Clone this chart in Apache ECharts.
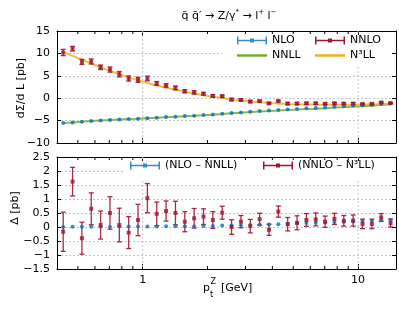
<!DOCTYPE html>
<html>
<head>
<meta charset="utf-8">
<script src="https://cdn.jsdelivr.net/npm/echarts@6/dist/echarts.min.js"></script>
<style>html,body{margin:0;padding:0;background:#fff}#c{width:399px;height:317px}</style>
</head>
<body>
<div id="c"></div>
<script>
// ---- data ----
const PT = [0.4274, 0.4724, 0.5220, 0.5769, 0.6376, 0.7047, 0.7788, 0.8607, 0.9512, 1.0513, 1.1618, 1.2840, 1.4191, 1.5683, 1.7333, 1.9155, 2.1170, 2.3396, 2.5857, 2.8577, 3.1582, 3.4903, 3.8574, 4.2631, 4.7115, 5.2070, 5.7546, 6.3598, 7.0287, 7.7679, 8.5849, 9.4877, 10.4856, 11.5883, 12.8071, 14.1540];
const NLO = [-5.55,-5.4,-5.25,-5.1,-4.97,-4.88,-4.75,-4.65,-4.57,-4.45,-4.35,-4.22,-4.13,-4.0,-3.9,-3.77,-3.63,-3.48,-3.33,-3.18,-3.03,-2.88,-2.74,-2.63,-2.5,-2.4,-2.27,-2.18,-2.05,-1.92,-1.82,-1.68,-1.58,-1.45,-1.3,-1.15];
const NNLO = [10.2,11.05,8.1,8.2,6.9,6.4,5.35,4.4,4.1,4.4,3.3,2.85,2.3,1.55,1.3,1.0,0.5,0.45,-0.3,-0.4,-0.75,-0.65,-1.15,-0.65,-1.2,-1.2,-1.15,-1.15,-1.25,-1.15,-1.2,-1.2,-1.3,-1.25,-0.95,-1.1];
const NNLL = [-5.55,-5.41,-5.26,-5.11,-4.98,-4.89,-4.77,-4.67,-4.59,-4.47,-4.37,-4.25,-4.16,-4.03,-3.93,-3.81,-3.67,-3.53,-3.38,-3.24,-3.1,-2.96,-2.83,-2.73,-2.62,-2.53,-2.41,-2.33,-2.22,-2.1,-2.01,-1.88,-1.79,-1.67,-1.54,-1.4];
const N3LL = [10.3,9.45,8.6,7.75,6.9,6.1,5.35,4.65,4.0,3.4,2.85,2.35,1.88,1.45,1.05,0.68,0.33,0.02,-0.28,-0.53,-0.75,-0.93,-1.07,-1.18,-1.27,-1.34,-1.39,-1.42,-1.44,-1.45,-1.45,-1.44,-1.42,-1.38,-1.33,-1.25];
const ERR = [0.7,0.51,0.57,0.57,0.5,0.58,0.6,0.57,0.56,0.52,0.42,0.36,0.42,0.36,0.35,0.28,0.3,0.23,0.26,0.22,0.24,0.21,0.2,0.2,0.24,0.25,0.23,0.23,0.2,0.2,0.19,0.2,0.17,0.17,0.14,0.14];
const D_NLO = [0,0.01,0.01,0.01,0.01,0.01,0.02,0.02,0.02,0.02,0.02,0.03,0.03,0.03,0.03,0.04,0.04,0.05,0.05,0.06,0.07,0.08,0.09,0.1,0.12,0.13,0.14,0.15,0.17,0.18,0.19,0.2,0.21,0.22,0.24,0.25];
const D_NNLO = [-0.17,1.62,-0.4,0.65,0.07,0.5,0.07,-0.2,0.25,1.03,0.47,0.57,0.5,0.19,0.31,0.37,0.25,0.51,0.0,0.19,0.03,0.28,-0.1,0.55,0.1,0.15,0.25,0.27,0.19,0.29,0.22,0.23,0.11,0.11,0.34,0.14];
const X_MINOR = [0.5,0.6,0.7,0.8,0.9,2,3,4,5,6,7,8,9];
const X_LABELS = [1, 10];

const BLUE = '#0072BD', RED = '#A2142F', GREEN = '#77AC30', ORANGE = '#EDB120';
const FONT = 'DejaVu Sans';
const EB_ICON = 'path://M0 0h1.5v8h-1.5zM28.5 0h1.5v8h-1.5zM0 3.3h30v1.4h-30zM13 2h4v4h-4z';

const pairs = (ys) => PT.map((x, i) => [x, ys[i]]);
const errData = (ys) => PT.map((x, i) => [x, ys[i] - ERR[i], ys[i] + ERR[i]]);
const minusFmt = (v) => (v < 0 ? '\u2212' : '') + Math.abs(v);
const xLabelFmt = (v) => (X_LABELS.some(t => Math.abs(t - v) < 1e-9) ? String(Math.round(v)) : '');

function errRender(params, api) {
  const x = api.value(0);
  const a = api.coord([x, api.value(1)]);
  const b = api.coord([x, api.value(2)]);
  const w = 2.5;
  const st = { stroke: RED, lineWidth: 1.3, opacity: 0.9 };
  return { type: 'group', children: [
    { type: 'line', shape: { x1: a[0], y1: a[1], x2: b[0], y2: b[1] }, style: st },
    { type: 'line', shape: { x1: a[0] - w, y1: a[1], x2: a[0] + w, y2: a[1] }, style: st },
    { type: 'line', shape: { x1: b[0] - w, y1: b[1], x2: b[0] + w, y2: b[1] }, style: st }
  ]};
}
// minor log ticks on bottom and top frame edges
function tickRender(params, api) {
  const cs = params.coordSys;
  const px = api.coord([api.value(0), api.value(1)])[0];
  const st = { stroke: '#000', lineWidth: 1 };
  return { type: 'group', children: [
    { type: 'line', shape: { x1: px, y1: cs.y + cs.height, x2: px, y2: cs.y + cs.height - 3 }, style: st },
    { type: 'line', shape: { x1: px, y1: cs.y, x2: px, y2: cs.y + 3 }, style: st }
  ]};
}
// vertical dashed grid lines at the labelled decades
function vGridRender(params, api) {
  const cs = params.coordSys;
  const px = api.coord([api.value(0), api.value(1)])[0];
  return { type: 'line', shape: { x1: px, y1: cs.y, x2: px, y2: cs.y + cs.height },
           style: { stroke: '#c4c4c4', lineWidth: 1, lineDash: [2, 2] } };
}

const frameLine = { show: true, onZero: false, lineStyle: { color: '#000', width: 1 } };
const dashed = () => ({ show: true, showMinLine: false, showMaxLine: false, lineStyle: { color: '#c4c4c4', type: [2, 2], width: 1 } });

function xAx(grid, pos, labels) {
  return {
    type: 'log', gridIndex: grid, position: pos, min: 0.4, max: 15, logBase: 10,
    axisLine: frameLine,
    axisTick: { show: true, inside: true, length: 5, lineStyle: { color: '#000' } },
    axisLabel: { show: labels, formatter: xLabelFmt, showMinLabel: false, showMaxLabel: false,
                 margin: 6, color: '#000', fontFamily: FONT, fontSize: 11 },
    splitLine: { show: false },
    minorTick: { show: false },
    minorSplitLine: { show: false }
  };
}
function yAx(grid, pos, min, max, interval, labels, split) {
  return {
    type: 'value', gridIndex: grid, position: pos, min: min, max: max, interval: interval,
    axisLine: frameLine,
    axisTick: { show: true, inside: true, length: 4, lineStyle: { color: '#000' } },
    axisLabel: { show: labels, formatter: minusFmt, margin: 7, color: '#000', fontFamily: FONT, fontSize: 11 },
    splitLine: split ? dashed() : { show: false }
  };
}

function leg(name, icon, left, top, iw, ih) {
  return {
    data: [{ name: name, icon: icon }], left: left, top: top, orient: 'horizontal',
    itemWidth: iw, itemHeight: ih, itemGap: 0, padding: 0, selectedMode: false,
    textStyle: { fontFamily: FONT, fontSize: 11, color: '#000' }
  };
}

const chart = echarts.init(document.getElementById('c'), null, { renderer: 'canvas' });
chart.setOption({
  animation: false,
  backgroundColor: '#fff',
  grid: [
    { left: 57, top: 31, width: 339, height: 112 },
    { left: 57, top: 157, width: 339, height: 112 }
  ],
  xAxis: [
    xAx(0, 'bottom', false), xAx(0, 'top', false),
    xAx(1, 'bottom', true), xAx(1, 'top', false)
  ],
  yAxis: [
    yAx(0, 'left', -10, 15, 5, true, true), yAx(0, 'right', -10, 15, 5, false, false),
    yAx(1, 'left', -1.5, 2.5, 0.5, true, true), yAx(1, 'right', -1.5, 2.5, 0.5, false, false)
  ],
  legend: [
    leg('NLO', EB_ICON, 237, 35, 30, 8),
    leg('NNLO', EB_ICON, 315, 35, 30, 8),
    leg('NNLL', 'rect', 237, 50, 30, 2.5),
    leg('N\u00B3LL', 'rect', 315, 50, 30, 2.5),
    leg('(NLO \u2013 NNLL)', EB_ICON, 130, 160, 30, 8),
    leg('(NNLO \u2013 N\u00B3LL)', EB_ICON, 263, 160, 30, 8)
  ],
  graphic: { elements: [
    { type: 'rect', z: 3, shape: { x: 222, y: 35, width: 169, height: 31 }, style: { fill: '#fff' } },
    { type: 'rect', z: 3, shape: { x: 123, y: 161, width: 268, height: 18 }, style: { fill: '#fff' } },
    { type: 'text', z: 5, x: 229, y: 16, style: {
        text: '{a|q\u0304 q\u0304\u2032 \u2192 Z/\u03B3}{s|*}{a| \u2192 l}{s|+}{a| l}{s|\u2212}',
        align: 'center', verticalAlign: 'middle',
        rich: { a: { fontFamily: FONT, fontSize: 11, fill: '#000', lineHeight: 14 },
                s: { fontFamily: FONT, fontSize: 7, fill: '#000', lineHeight: 14, verticalAlign: 'top' } } } },
    { type: 'text', z: 5, x: 21, y: 88, rotation: Math.PI / 2, style: {
        text: 'd\u03A3/d L [pb]', align: 'center', verticalAlign: 'middle', fontFamily: FONT, fontSize: 11, fill: '#000' } },
    { type: 'text', z: 5, x: 15, y: 208, rotation: Math.PI / 2, style: {
        text: '\u0394 [pb]', align: 'center', verticalAlign: 'middle', fontFamily: FONT, fontSize: 11, fill: '#000' } },
    { type: 'text', z: 5, x: 203, y: 288, style: { text: 'p', align: 'left', verticalAlign: 'middle', fontFamily: FONT, fontSize: 11, fill: '#000' } },
    { type: 'text', z: 5, x: 210, y: 295, style: { text: 't', align: 'left', verticalAlign: 'middle', fontFamily: FONT, fontSize: 8, fill: '#000' } },
    { type: 'text', z: 5, x: 210.5, y: 282, style: { text: 'Z', align: 'left', verticalAlign: 'middle', fontFamily: FONT, fontSize: 8, fill: '#000' } },
    { type: 'text', z: 5, x: 221, y: 288, style: { text: '[GeV]', align: 'left', verticalAlign: 'middle', fontFamily: FONT, fontSize: 11, fill: '#000' } }
  ]},
  series: [
    { name: 'gridTop', type: 'custom', xAxisIndex: 0, yAxisIndex: 0, data: X_LABELS.map(v => [v, 0]),
      renderItem: vGridRender, encode: { x: 0, y: 1 }, silent: true, clip: false, z: 1 },
    { name: 'gridBottom', type: 'custom', xAxisIndex: 2, yAxisIndex: 2, data: X_LABELS.map(v => [v, 0]),
      renderItem: vGridRender, encode: { x: 0, y: 1 }, silent: true, clip: false, z: 1 },
    { name: 'ticksTop', type: 'custom', xAxisIndex: 0, yAxisIndex: 0, data: X_MINOR.map(v => [v, 0]),
      renderItem: tickRender, encode: { x: 0, y: 1 }, silent: true, clip: false, z: 6 },
    { name: 'ticksBottom', type: 'custom', xAxisIndex: 2, yAxisIndex: 2, data: X_MINOR.map(v => [v, 0]),
      renderItem: tickRender, encode: { x: 0, y: 1 }, silent: true, clip: false, z: 6 },
    { name: 'NNLL', type: 'line', xAxisIndex: 0, yAxisIndex: 0, data: pairs(NNLL), showSymbol: false, color: GREEN,
      lineStyle: { color: GREEN, width: 2, opacity: 0.85 }, z: 2, silent: true },
    { name: 'N\u00B3LL', type: 'line', xAxisIndex: 0, yAxisIndex: 0, data: pairs(N3LL), showSymbol: false, color: ORANGE,
      lineStyle: { color: ORANGE, width: 2, opacity: 0.85 }, z: 2, silent: true },
    { name: 'NLO', type: 'scatter', xAxisIndex: 0, yAxisIndex: 0, data: pairs(NLO), symbol: 'circle', symbolSize: 4, color: BLUE, z: 4 },
    { name: 'NNLO', type: 'custom', xAxisIndex: 0, yAxisIndex: 0, data: errData(NNLO), renderItem: errRender, color: RED,
      encode: { x: 0, y: [1, 2] }, z: 3 },
    { name: 'NNLO', type: 'scatter', xAxisIndex: 0, yAxisIndex: 0, data: pairs(NNLO), symbol: 'rect', symbolSize: 4, color: RED, z: 4 },
    { name: '(NLO \u2013 NNLL)', type: 'scatter', xAxisIndex: 2, yAxisIndex: 2, data: pairs(D_NLO), symbol: 'circle', symbolSize: 4, color: BLUE, z: 4 },
    { name: '(NNLO \u2013 N\u00B3LL)', type: 'custom', xAxisIndex: 2, yAxisIndex: 2, data: errData(D_NNLO), renderItem: errRender, color: RED,
      encode: { x: 0, y: [1, 2] }, z: 3 },
    { name: '(NNLO \u2013 N\u00B3LL)', type: 'scatter', xAxisIndex: 2, yAxisIndex: 2, data: pairs(D_NNLO), symbol: 'rect', symbolSize: 4, color: RED, z: 4 }
  ]
});
</script>
</body>
</html>
